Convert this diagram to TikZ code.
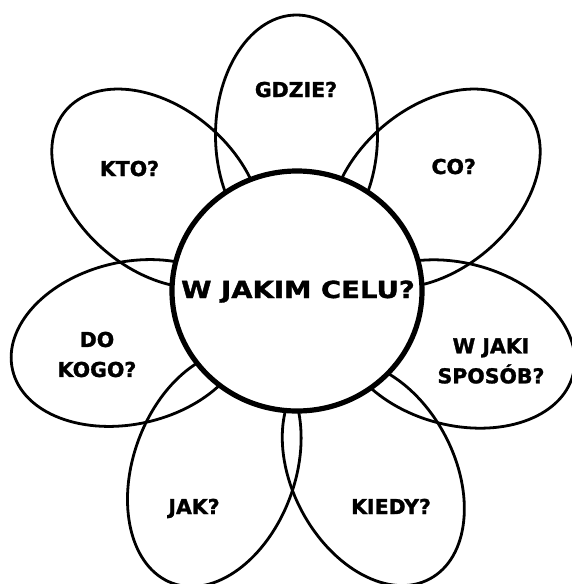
\documentclass[tikz,border=0pt]{standalone}
\usepackage{fontspec}
\setmainfont{DejaVu Sans}[BoldFeatures={FakeBold=1.4}]
\usetikzlibrary{shapes.geometric}

\tikzset{
  petal/.style={draw, ellipse, line width=2.8pt, inner sep=0pt,
    minimum width=240pt, minimum height=162pt},
  heart/.style={draw, ellipse, fill=white, line width=5.2pt, inner sep=0pt,
    minimum width=250pt, minimum height=240pt},
  question/.style={font=\bfseries\fontsize{20.5}{30}\selectfont, inner sep=0pt, align=center}
}

\begin{document}
\begin{tikzpicture}[x=1pt,y=-1pt]
\useasboundingbox (0,0) rectangle (572,584);
% petals
\node[petal, rotate=90] (gdzie) at (296.5,135) {};
\node[petal, rotate=40.7] (co) at (435,188.5) {};
\node[petal, rotate=-40.7] (kto) at (157,188.5) {};
\node[petal, rotate=-15] (sposob) at (457,344) {};
\node[petal, rotate=13] (dokogo) at (129.5,343) {};
\node[petal, rotate=-62] (kiedy) at (373.3,473) {};
\node[petal, rotate=70, minimum width=244pt] (jak) at (214.3,468.6) {};
% middle
\node[heart] (serce) at (297,291) {};
\node[font=\bfseries\fontsize{23.5}{28}\selectfont, inner sep=0pt, xscale=1.17, anchor=base] (cel) at (298,298) {W JAKIM CELU?};
% questions
\node[question, anchor=base] (tgdzie) at (296,97) {GDZIE?};
\node[question, anchor=base] (tkto) at (129.5,176) {KTO?};
\node[question, anchor=base] (tco) at (453.7,174) {CO?};
\node[question] (tdokogo) at (97,354.5) {DO\\KOGO?};
\node[question] (tsposob) at (491,361) {W JAKI\\SPOSÓB?};
\node[question, anchor=base] (tjak) at (194,514) {JAK?};
\node[question, anchor=base] (tkiedy) at (391,514) {KIEDY?};
\end{tikzpicture}
\end{document}
